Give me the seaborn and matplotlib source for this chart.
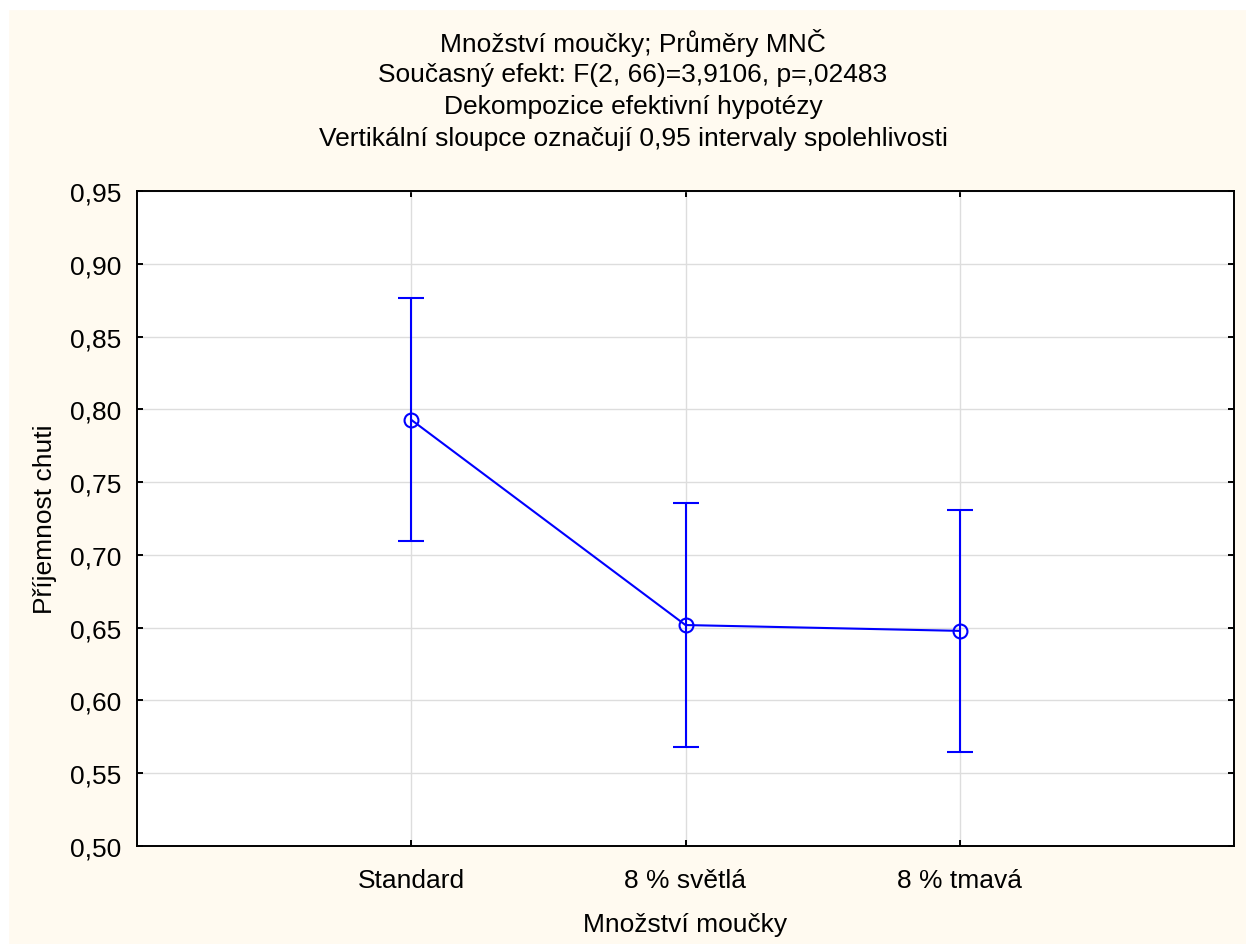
import numpy as np
import seaborn as sns
import matplotlib
matplotlib.use('Agg')
import matplotlib.pyplot as plt
from matplotlib.patches import Rectangle
from matplotlib.ticker import FuncFormatter, MultipleLocator

# data
kategorie = ['Standard', '8 % světlá', '8 % tmavá']
prumery = [0.7928, 0.6518, 0.6478]
dolni = [0.7093, 0.5682, 0.5644]
horni = [0.8763, 0.7354, 0.7311]

tituly = ['Množství moučky; Průměry MNČ',
          'Současný efekt: F(2, 66)=3,9106, p=,02483',
          'Dekompozice efektivní hypotézy',
          'Vertikální sloupce označují 0,95 intervaly spolehlivosti']

sns.set_style('white')
plt.rcParams['font.family'] = ['Liberation Sans', 'DejaVu Sans']
fs = 19

W, H = 1246, 945
fig = plt.figure(figsize=(W / 100, H / 100), dpi=100, facecolor='#FFFAF0')
# white border strips on the left and top
fig.patches.append(Rectangle((0, 0), 8 / W, 1, transform=fig.transFigure, color='white', zorder=-1))
fig.patches.append(Rectangle((0, 1 - 10 / H), 1, 10 / H, transform=fig.transFigure, color='white', zorder=-1))

ax = fig.add_axes([137 / W, 1 - 847 / H, (1234 - 137) / W, (847 - 192) / H])
ax.set_facecolor('white')

yerr = np.array([np.array(prumery) - np.array(dolni), np.array(horni) - np.array(prumery)])
sns.lineplot(x=kategorie, y=prumery, ax=ax, color='#0000FF', linewidth=1.5, sort=False,
             marker='o', markersize=10, markerfacecolor='none', markeredgecolor='#0000FF',
             markeredgewidth=1.5, zorder=3)
ax.errorbar(kategorie, prumery, yerr=yerr, fmt='none', ecolor='#0000FF', elinewidth=1.5,
            capsize=9.7, capthick=1.5, zorder=3)

ax.set_xlim(-1, 3)
ax.set_ylim(0.5, 0.95)
ax.yaxis.set_major_locator(MultipleLocator(0.05))
ax.yaxis.set_major_formatter(FuncFormatter(lambda v, p: f'{v:.2f}'.replace('.', ',')))
ax.set_xticks(range(len(kategorie)))
ax.set_xticklabels(kategorie)

ax.grid(True, color='#DDDDDD', linewidth=1)
ax.set_axisbelow(True)
for s in ax.spines.values():
    s.set_visible(True)
    s.set_color('black')
    s.set_linewidth(1.4)
ax.tick_params(axis='both', direction='in', length=4, width=1.4, color='black',
               labelsize=fs, labelcolor='black')
ax.tick_params(axis='y', right=True, left=True, pad=11)
ax.tick_params(axis='x', bottom=True, top=True, pad=15.5)

ax.set_xlabel('Množství moučky', fontsize=fs, color='black')
ax.set_ylabel('Příjemnost chuti', fontsize=fs, color='black')
ax.xaxis.set_label_coords(0.5, (847 - 913) / 655)
ax.yaxis.set_label_coords((57 - 137) / 1097, 0.5)

for i, t in enumerate(tituly):
    fig.text(633 / W, 1 - (43 + 32 * i) / H, t, ha='center', va='center', fontsize=fs, color='black')

fig.savefig('out.png', dpi=100, facecolor=fig.get_facecolor())
